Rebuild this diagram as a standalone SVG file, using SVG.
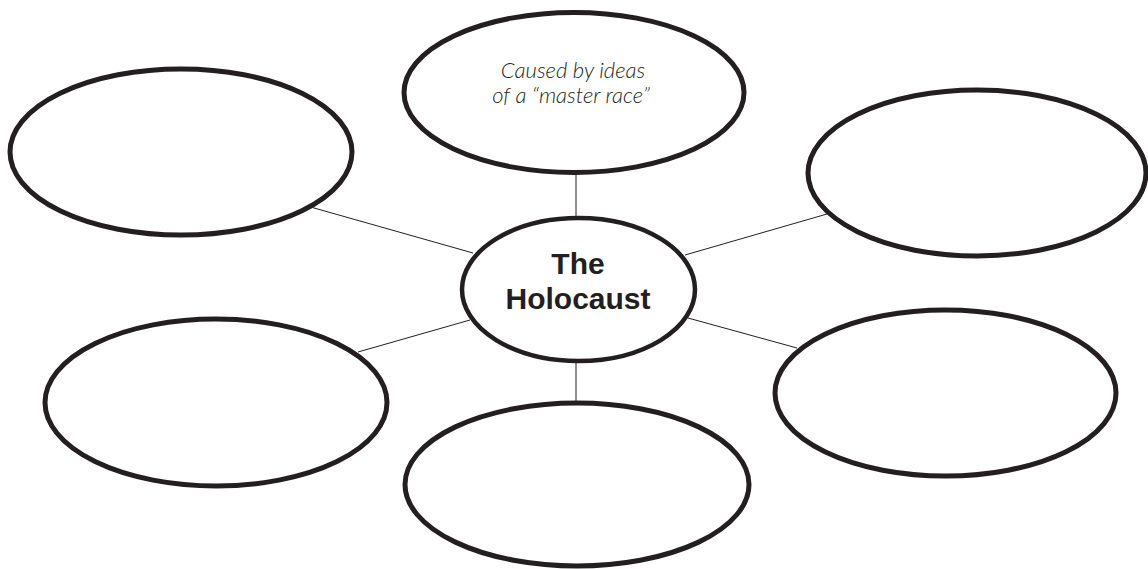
<svg xmlns="http://www.w3.org/2000/svg" width="1148" height="569" viewBox="0 0 1148 569">
<style>
.node{fill:#ffffff;stroke:#231f20;stroke-width:5}
.hub{fill:#ffffff;stroke:#231f20;stroke-width:4.5}
.conn{stroke:#231f20;stroke-width:1;fill:none}
.hand{font-family:Lato,"Open Sans","DejaVu Sans",sans-serif;font-style:italic;font-weight:300;font-size:22px;fill:#231f20;text-anchor:middle}
.title{font-family:"Liberation Sans",Arial,sans-serif;font-weight:bold;font-size:30px;fill:#231f20;text-anchor:middle}
</style>
<rect width="1148" height="569" fill="#ffffff"/>
<g id="connectors">
<line class="conn" x1="576" y1="172" x2="576" y2="218"/>
<line class="conn" x1="576" y1="358" x2="576" y2="404"/>
<line class="conn" x1="313" y1="207.7" x2="473" y2="253"/>
<line class="conn" x1="685" y1="255" x2="827" y2="214"/>
<line class="conn" x1="358" y1="352" x2="470" y2="320"/>
<line class="conn" x1="688" y1="318" x2="797" y2="348"/>
</g>
<g id="node-top">
<ellipse class="node" cx="574" cy="92.5" rx="170" ry="80"/>
<text class="hand" x="573" y="78">Caused by ideas</text>
<text class="hand" x="571" y="103">of a “master race”</text>
</g>
<g id="node-top-left"><ellipse class="node" cx="181" cy="152" rx="171" ry="83"/></g>
<g id="node-top-right"><ellipse class="node" cx="977" cy="173" rx="169" ry="83"/></g>
<g id="node-bottom-left"><ellipse class="node" cx="216" cy="402.5" rx="171" ry="83.5"/></g>
<g id="node-bottom"><ellipse class="node" cx="577" cy="484.5" rx="172" ry="81.5"/></g>
<g id="node-bottom-right"><ellipse class="node" cx="945.5" cy="393" rx="170.5" ry="83"/></g>
<g id="node-center">
<ellipse class="hub" cx="578.5" cy="289.5" rx="116.5" ry="71.5"/>
<text class="title" x="578" y="274">The</text>
<text class="title" x="578" y="309">Holocaust</text>
</g>
</svg>
